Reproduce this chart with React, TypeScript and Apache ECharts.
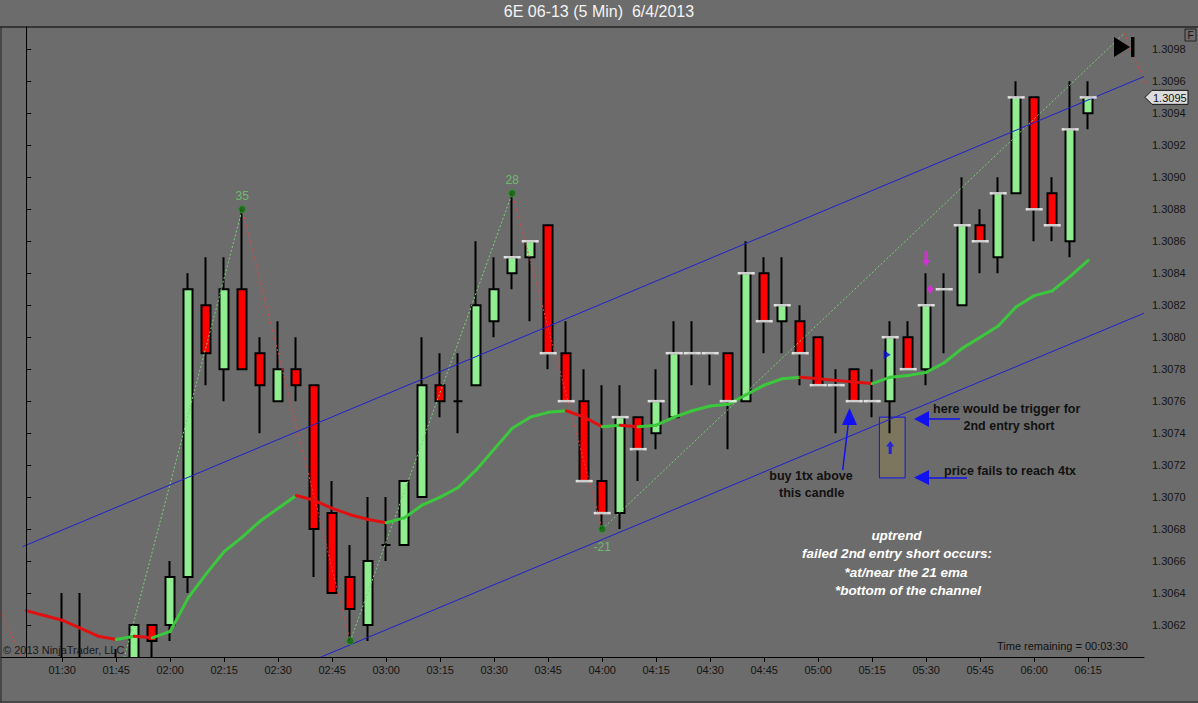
import React, { useEffect, useRef } from "react";
import * as echarts from "echarts";

// ---------- data ----------
const times = [
  "01:20","01:25","01:30","01:35","01:40","01:45","01:50","01:55",
  "02:00","02:05","02:10","02:15","02:20","02:25","02:30","02:35","02:40","02:45","02:50","02:55",
  "03:00","03:05","03:10","03:15","03:20","03:25","03:30","03:35","03:40","03:45","03:50","03:55",
  "04:00","04:05","04:10","04:15","04:20","04:25","04:30","04:35","04:40","04:45","04:50","04:55",
  "05:00","05:05","05:10","05:15","05:20","05:25","05:30","05:35","05:40","05:45","05:50","05:55",
  "06:00","06:05","06:10","06:15",
];

const opens = [
  1.3059, 1.3057, 1.3058, 1.3059, 1.3059, 1.3058, 1.3059, 1.3062,
  1.3062, 1.3065, 1.3082, 1.3078, 1.3083, 1.3079, 1.3076, 1.3078, 1.3077, 1.3069, 1.3065, 1.3062,
  1.3067, 1.3067, 1.3070, 1.3077, 1.3076, 1.3077, 1.3081, 1.3084, 1.3085, 1.3087, 1.3079, 1.3076,
  1.3071, 1.3069, 1.3075, 1.3074, 1.3075, 1.3079, 1.3079, 1.3079, 1.3076, 1.3084, 1.3081, 1.3081,
  1.3080, 1.3077, 1.3078, 1.3076, 1.3076, 1.3080, 1.3078, 1.3083, 1.3082, 1.3087, 1.3085, 1.3089,
  1.3095, 1.3089, 1.3086, 1.3094,
];
const closes = [
  1.3057, 1.3058, 1.3059, 1.3058, 1.3058, 1.3059, 1.3062, 1.3061,
  1.3065, 1.3083, 1.3079, 1.3083, 1.3078, 1.3077, 1.3078, 1.3077, 1.3068, 1.3064, 1.3063, 1.3066,
  1.3067, 1.3071, 1.3077, 1.3076, 1.3076, 1.3082, 1.3083, 1.3085, 1.3086, 1.3079, 1.3076, 1.3071,
  1.3069, 1.3075, 1.3073, 1.3076, 1.3079, 1.3079, 1.3079, 1.3076, 1.3084, 1.3081, 1.3082, 1.3079,
  1.3077, 1.3077, 1.3076, 1.3076, 1.3080, 1.3078, 1.3082, 1.3083, 1.3087, 1.3086, 1.3089, 1.3095,
  1.3088, 1.3087, 1.3093, 1.3095,
];
const lows = [
  1.3056, 1.3057, 1.3057, 1.3057, 1.3058, 1.3058, 1.3058, 1.3059,
  1.3061, 1.3064, 1.3077, 1.3076, 1.3078, 1.3074, 1.3076, 1.3076, 1.3065, 1.3064, 1.3061, 1.3061,
  1.3066, 1.3067, 1.3070, 1.3075, 1.3074, 1.3077, 1.3080, 1.3083, 1.3081, 1.3078, 1.3076, 1.3071,
  1.3068, 1.3068, 1.3071, 1.3073, 1.3075, 1.3077, 1.3077, 1.3073, 1.3076, 1.3079, 1.3079, 1.3077,
  1.3077, 1.3074, 1.3076, 1.3075, 1.3074, 1.3078, 1.3077, 1.3079, 1.3082, 1.3084, 1.3084, 1.3089,
  1.3086, 1.3086, 1.3085, 1.3093,
];
const highs = [
  1.3059, 1.3059, 1.3064, 1.3064, 1.3059, 1.30605, 1.3062, 1.3062,
  1.3066, 1.3084, 1.3085, 1.3085, 1.3088, 1.3080, 1.3081, 1.3080, 1.3077, 1.3071, 1.3067, 1.3070,
  1.3070, 1.3071, 1.3080, 1.3079, 1.3079, 1.3086, 1.3085, 1.3089, 1.3086, 1.3087, 1.3081, 1.3078,
  1.3077, 1.3077, 1.3075, 1.3078, 1.3081, 1.3081, 1.3079, 1.3079, 1.3086, 1.3085, 1.3085, 1.3082,
  1.3080, 1.3078, 1.3078, 1.3078, 1.3081, 1.3081, 1.3084, 1.3084, 1.3090, 1.3088, 1.3090, 1.3096,
  1.3095, 1.3090, 1.3096, 1.3096,
];

// 21-period EMA as drawn
const ema21 = [
  1.30629, 1.30626, 1.30623, 1.30618, 1.30613, 1.30611, 1.30613, 1.30612,
  1.30616, 1.30637, 1.30652, 1.30666, 1.30675, 1.30685, 1.30693, 1.30701, 1.30698, 1.30693, 1.30689, 1.30686,
  1.30684, 1.30687, 1.30695, 1.30700, 1.30706, 1.30717, 1.30730, 1.30743, 1.30750, 1.30753, 1.30754, 1.30750,
  1.30744, 1.30745, 1.30744, 1.30745, 1.30750, 1.30754, 1.30757, 1.30758, 1.30764, 1.30770, 1.30774, 1.30775,
  1.30774, 1.30773, 1.30772, 1.30771, 1.30775, 1.30776, 1.30778, 1.30784, 1.30793, 1.30800, 1.30807, 1.30819,
  1.30826, 1.30829, 1.30838, 1.30848,
];

// zigzag swing points (bar index, price)
const zigzagIdx = [-4, 1, 5, 12, 18, 27, 32, 61, 64];
const zigzagPrice = [1.3069, 1.3057, 1.3058, 1.3088, 1.3061, 1.3089, 1.3068, 1.3099, 1.3091];

// swing labels
const swingIdx = [12, 18, 27, 32];
const swingPrice = [1.3088, 1.3061, 1.3089, 1.3068];
const swingLabel = ["35", "", "28", "-21"];
const swingIsHigh = [true, false, true, false];

// channel lines: [x0, p0, x1, p1]
const channelUpper = [-0.2, 1.30669, 62.1, 1.30963];
const channelLower = [10, 1.3057, 62.1, 1.30815];

// signal markers
const sigIdx = [50, 50, 48, 48];
const sigPrice = [1.30849, 1.3083, 1.30789, 1.30731];
const sigKind = ["downArrowMagenta", "diamondMagenta", "triangleBlue", "upArrowBlue"];

// annotation box (bar index range, price range)
const boxRange = [47.4, 48.83, 1.3075, 1.30712];

const tickLabels = [
  "01:30","01:45","02:00","02:15","02:30","02:45","03:00","03:15","03:30","03:45",
  "04:00","04:15","04:30","04:45","05:00","05:15","05:30","05:45","06:00","06:15",
];
const yTicks = [
  1.3062, 1.3064, 1.3066, 1.3068, 1.3070, 1.3072, 1.3074, 1.3076, 1.3078, 1.3080,
  1.3082, 1.3084, 1.3086, 1.3088, 1.3090, 1.3092, 1.3094, 1.3096, 1.3098,
];
const closeMarkFrom = "03:35";

// ---------- styles ----------
const BG = "#6c6c6c";
const UP = "#90ee90";
const DOWN = "#ff0000";
const EMA_UP = "#3cc83c";
const EMA_DOWN = "#e01010";
const ZZ_UP = "#7ad27a";
const ZZ_DOWN = "#e04444";
const CH = "#2020d0";
const ANN_BLUE = "#1212f0";
const FONT = "'Liberation Sans', Arial, sans-serif";

const UP_ARROW = "path://M5,0 L10,6 L7,6 L7,14 L3,14 L3,6 L0,6 Z";

function buildOption(): any {
  const candleData = opens.map((o, i) => [i, o, closes[i], lows[i], highs[i]]);
  const emaSegs = ema21.slice(1).map((v, k) => ({
    coords: [[k, ema21[k]], [k + 1, v]],
    lineStyle: { color: v >= ema21[k] ? EMA_UP : EMA_DOWN },
  }));
  const zzSegs = zigzagIdx.slice(1).map((x, k) => ({
    coords: [[zigzagIdx[k], zigzagPrice[k]], [x, zigzagPrice[k + 1]]],
    lineStyle: { color: zigzagPrice[k + 1] >= zigzagPrice[k] ? ZZ_UP : ZZ_DOWN },
  }));
  const startMark = times.indexOf(closeMarkFrom);
  const closeMarks = closes.map((c, i) => [i, c]).filter((d) => (d[0] as number) >= startMark);
  const swingData = swingIdx.map((x, k) => ({
    value: [x, swingPrice[k]],
    label: {
      show: swingLabel[k] !== "",
      formatter: swingLabel[k],
      position: swingIsHigh[k] ? "top" : "bottom",
      distance: swingIsHigh[k] ? 3 : 8,
    },
  }));
  const sigData = sigIdx.map((x, k) => {
    const kind = sigKind[k];
    if (kind === "downArrowMagenta")
      return { value: [x, sigPrice[k]], symbol: UP_ARROW, symbolSize: [8, 15], symbolRotate: 180, itemStyle: { color: "#ee22ee" } };
    if (kind === "diamondMagenta")
      return { value: [x, sigPrice[k]], symbol: "diamond", symbolSize: [7, 9], symbolOffset: [4, 0], itemStyle: { color: "#ee22ee" } };
    if (kind === "triangleBlue")
      return { value: [x, sigPrice[k]], symbol: "triangle", symbolSize: [9, 7], symbolRotate: -90, symbolOffset: [-3, 0], itemStyle: { color: "#0808d8" } };
    return { value: [x, sigPrice[k]], symbol: UP_ARROW, symbolSize: [8, 13], itemStyle: { color: "#1010f0" } };
  });

  return {
    animation: false,
    backgroundColor: BG,
    title: {
      text: "6E 06-13 (5 Min)  6/4/2013",
      left: "center",
      top: 3,
      padding: 0,
      textStyle: { color: "#f4f4f4", fontSize: 16, fontWeight: "normal", fontFamily: FONT },
    },
    grid: { left: 1, right: 54, top: 27, bottom: 46, containLabel: false },
    xAxis: {
      type: "value",
      z: 20,
      min: -1.4,
      max: 62.1,
      splitLine: { show: false },
      axisLine: { show: true, onZero: false, lineStyle: { color: "#000", width: 1 } },
      axisTick: {
        show: true,
        length: 5,
        lineStyle: { color: "#000" },
        customValues: tickLabels.map((t) => times.indexOf(t)),
      },
      axisLabel: {
        color: "#141414",
        fontSize: 11,
        fontFamily: FONT,
        margin: 7,
        customValues: tickLabels.map((t) => times.indexOf(t)),
        formatter: (v: number) => times[Math.round(v)] ?? "",
      },
    },
    yAxis: {
      type: "value",
      z: 20,
      position: "right",
      min: 1.306,
      max: 1.30994,
      scale: true,
      splitLine: { show: false },
      axisLine: { show: true, lineStyle: { color: "#000", width: 1 } },
      axisTick: { show: true, length: 5, lineStyle: { color: "#000" }, customValues: yTicks },
      axisLabel: {
        color: "#141414",
        fontSize: 11,
        fontFamily: FONT,
        margin: 8,
        customValues: yTicks,
        formatter: (v: number) => v.toFixed(4),
      },
    },
    series: [
      {
        type: "line",
        data: [],
        z: 1,
        silent: true,
        markArea: {
          silent: true,
          itemStyle: { color: "#7c765e", borderColor: ANN_BLUE, borderWidth: 1 },
          data: [[{ coord: [boxRange[0], boxRange[2]] }, { coord: [boxRange[1], boxRange[3]] }]],
        },
      },
      {
        type: "candlestick",
        z: 2,
        silent: true,
        barWidth: 9.5,
        clip: true,
        encode: { x: 0, y: [1, 2, 3, 4] },
        data: candleData,
        itemStyle: {
          color: UP,
          color0: DOWN,
          borderColor: "#000",
          borderColor0: "#000",
          borderColorDoji: "#000",
          borderWidth: 2,
        },
      },
      {
        type: "lines",
        coordinateSystem: "cartesian2d",
        z: 3,
        silent: true,
        clip: true,
        lineStyle: { width: 1, type: [2, 2], opacity: 1 },
        data: zzSegs,
      },
      {
        type: "lines",
        coordinateSystem: "cartesian2d",
        z: 4,
        silent: true,
        clip: true,
        lineStyle: { width: 3, cap: "round", opacity: 1 },
        data: emaSegs,
      },
      {
        type: "lines",
        coordinateSystem: "cartesian2d",
        z: 5,
        silent: true,
        clip: true,
        lineStyle: { width: 1, color: CH, opacity: 1 },
        data: [
          { coords: [[channelUpper[0], channelUpper[1]], [channelUpper[2], channelUpper[3]]] },
          { coords: [[channelLower[0], channelLower[1]], [channelLower[2], channelLower[3]]] },
        ],
      },
      {
        type: "scatter",
        z: 6,
        silent: true,
        symbol: "rect",
        symbolSize: [17, 2.5],
        itemStyle: { color: "#ffffff" },
        data: closeMarks,
      },
      {
        type: "scatter",
        z: 7,
        silent: true,
        symbol: "circle",
        symbolSize: 7,
        itemStyle: { color: "#0a6e0a", borderColor: "#2a9a2a", borderWidth: 1 },
        label: { color: "#6ed06e", fontSize: 12, fontFamily: FONT },
        data: swingData,
      },
      {
        type: "scatter",
        z: 8,
        silent: true,
        data: sigData,
      },
    ],
  };
}

function buildGraphic(tagY: number, tagText: string, plotBottom: number): any[] {
  const txt = (id: string, x: number, y: number, text: string, opts: any = {}) => ({
    type: "text",
    id,
    z: 100,
    x,
    y,
    silent: true,
    style: {
      text,
      fill: opts.fill ?? "#111",
      font: opts.font ?? `bold 12.5px ${FONT}`,
      textAlign: opts.align ?? "center",
      textVerticalAlign: "middle",
    },
  });
  const ln = (id: string, x1: number, y1: number, x2: number, y2: number, color: string, w = 1) => ({
    type: "line",
    id,
    z: 100,
    silent: true,
    shape: { x1, y1, x2, y2 },
    style: { stroke: color, lineWidth: w },
  });
  const poly = (id: string, points: number[][], color: string) => ({
    type: "polygon",
    id,
    z: 100,
    silent: true,
    shape: { points },
    style: { fill: color },
  });
  const white = `italic bold 13.5px ${FONT}`;
  return [
    // cover for the parts of candles that fall below the price panel
    {
      type: "rect", id: "cover", z: 15, silent: true,
      shape: { x: 0, y: plotBottom + 0.5, width: 1198, height: 703 - plotBottom },
      style: { fill: BG },
    },
    ln("topLine", 0, 27, 1198, 27, "#000", 1),
    ln("leftLine", 1, 27, 1, 702, "#222", 1),
    ln("bottomLine", 0, 702, 1198, 702, "#222", 1),
    // F box
    { type: "rect", id: "fbox", z: 100, silent: true, shape: { x: 1185, y: 29, width: 11, height: 12 }, style: { fill: "none", stroke: "#222", lineWidth: 1 } },
    txt("fText", 1190.5, 35.5, "F", { font: `10px ${FONT}`, fill: "#111" }),
    // scroll-to-end icon
    poly("playTri", [[1114, 37], [1114, 57], [1130, 47]], "#000"),
    { type: "rect", id: "playBar", z: 100, silent: true, shape: { x: 1131, y: 37, width: 3.5, height: 20 }, style: { fill: "#000" } },
    // price tag
    poly("tagShape", [[1145, tagY], [1152, tagY - 7], [1188, tagY - 7], [1188, tagY + 7], [1152, tagY + 7]], "#dcdcdc"),
    {
      type: "polygon", id: "tagStroke", z: 101, silent: true,
      shape: { points: [[1145, tagY], [1152, tagY - 7], [1188, tagY - 7], [1188, tagY + 7], [1152, tagY + 7]] },
      style: { fill: "none", stroke: "#111", lineWidth: 1 },
    },
    txt("tagText", 1153, tagY + 0.5, tagText, { font: `11px ${FONT}`, align: "left", fill: "#111" }),
    // footer texts
    txt("copy", 3, 650, "\u00a9 2013 NinjaTrader, LLC", { font: `11px ${FONT}`, align: "left", fill: "#1a1a1a" }),
    txt("timeRem", 997, 646, "Time remaining = 00:03:30", { font: `11px ${FONT}`, align: "left", fill: "#111" }),
    // annotation arrows
    ln("buyLine", 842.7, 470, 848.5, 422, ANN_BLUE, 1.5),
    poly("buyHead", [[849.5, 408], [842, 425], [857, 425]], ANN_BLUE),
    ln("trigLine", 927, 419, 960, 419, ANN_BLUE, 1.5),
    poly("trigHead", [[914, 419], [929, 411], [929, 427]], ANN_BLUE),
    ln("failLine", 927, 478, 967, 478, ANN_BLUE, 1.5),
    poly("failHead", [[914, 477.5], [929, 470], [929, 485]], ANN_BLUE),
    // black annotation texts
    txt("t1", 1006.7, 409, "here would be trigger for"),
    txt("t2", 1009, 426, "2nd entry short"),
    txt("t3", 1010, 471, "price fails to reach 4tx"),
    txt("t4", 811, 476, "buy 1tx above"),
    txt("t5", 811.7, 493, "this candle"),
    // white notes
    txt("w1", 896.5, 535, "uptrend", { font: white, fill: "#ffffff" }),
    txt("w2", 897, 553, "failed 2nd entry short occurs:", { font: white, fill: "#ffffff" }),
    txt("w3", 906, 572, "*at/near the 21 ema", { font: white, fill: "#ffffff" }),
    txt("w4", 908, 590, "*bottom of the channel", { font: white, fill: "#ffffff" }),
  ];
}

export default function App() {
  const ref = useRef<HTMLDivElement>(null);
  useEffect(() => {
    document.body.style.margin = "0";
    const el = ref.current;
    if (!el) return;
    const chart = echarts.init(el, undefined, { renderer: "svg" });
    chart.setOption(buildOption());
    const lastClose = closes[closes.length - 1];
    const tagY = chart.convertToPixel({ yAxisIndex: 0 }, lastClose) as number;
    const plotBottom = chart.convertToPixel({ yAxisIndex: 0 }, 1.306) as number;
    chart.setOption({ graphic: buildGraphic(tagY, lastClose.toFixed(4), plotBottom) });
    return () => chart.dispose();
  }, []);
  return <div ref={ref} style={{ width: 1198, height: 703 }} />;
}
